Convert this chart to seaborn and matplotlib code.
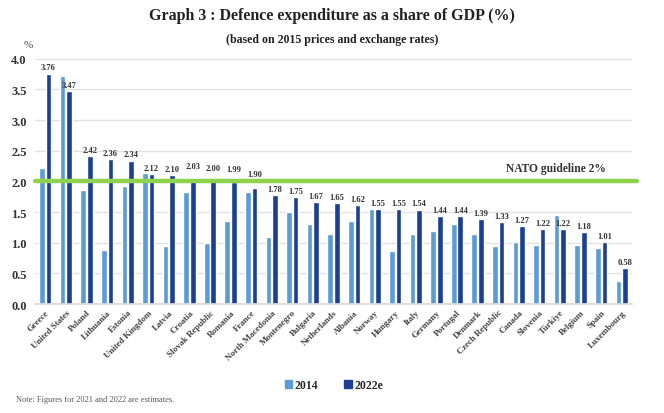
import pandas as pd
import matplotlib.pyplot as plt
import seaborn as sns

# --------------------------------------------------------------------
# DATA
# --------------------------------------------------------------------

countries = [
    "Greece", "United States", "Poland", "Lithuania", "Estonia",
    "United Kingdom", "Latvia", "Croatia", "Slovak Republic", "Romania",
    "France", "North Macedonia", "Montenegro", "Bulgaria", "Netherlands",
    "Albania", "Norway", "Hungary", "Italy", "Germany", "Portugal",
    "Denmark", "Czech Republic", "Canada", "Slovenia", "Türkiye",
    "Belgium", "Spain", "Luxembourg",
]
share_2014 = [
    2.22, 3.72, 1.86, 0.88, 1.93, 2.14, 0.94, 1.82, 0.99, 1.35,
    1.82, 1.09, 1.50, 1.31, 1.15, 1.35, 1.55, 0.86, 1.14, 1.19,
    1.31, 1.15, 0.95, 1.01, 0.97, 1.45, 0.97, 0.92, 0.37,
]
share_2022 = [
    3.76, 3.47, 2.42, 2.36, 2.34, 2.12, 2.10, 2.03, 2.00, 1.99,
    1.90, 1.78, 1.75, 1.67, 1.65, 1.62, 1.55, 1.55, 1.54, 1.44,
    1.44, 1.39, 1.33, 1.27, 1.22, 1.22, 1.18, 1.01, 0.58,
]
series = ["2014", "2022e"]
nato_guideline = 2.0

LIGHT = "#5a9bd8"
DARK = "#1c3f94"
GREEN = "#8fd24e"
SERIF = "Liberation Serif"


def build_frame():
    df = pd.DataFrame({"Country": countries, "2014": share_2014, "2022e": share_2022})
    return df.melt(id_vars="Country", var_name="Year", value_name="Share")


def label_y(v):
    # lift labels that would sit on the guideline
    y = v + 0.1
    if 1.95 < y < 2.15:
        y = v + 0.22
    return y


def main():
    sns.set_theme(style="white")
    plt.rcParams["font.family"] = [SERIF, "DejaVu Serif"]

    df = build_frame()

    fig = plt.figure(figsize=(6.64, 4.14), dpi=100)
    ax = fig.add_axes([35 / 664, 1 - 305 / 414, 597 / 664, 247 / 414])

    sns.barplot(data=df, x="Country", y="Share", hue="Year", order=countries,
                hue_order=series, palette=[LIGHT, DARK], width=0.64, gap=0.14,
                saturation=1, legend=False, ax=ax, zorder=2)

    ax.set_ylim(0, 4.03)
    ax.set_xlim(-0.5, len(countries) - 0.5)
    ax.set_yticks([0, 0.5, 1.0, 1.5, 2.0, 2.5, 3.0, 3.5, 4.0])
    ax.set_yticklabels([f"{v:.1f}" for v in ax.get_yticks()],
                       fontsize=9, fontweight="bold", color="#333333")
    ax.yaxis.grid(True, color="#e2e2e2", linewidth=1, zorder=0)
    ax.set_axisbelow(True)
    for side in ["top", "right", "left"]:
        ax.spines[side].set_visible(False)
    ax.spines["bottom"].set_color("#d9d9d9")
    ax.tick_params(axis="y", length=0, pad=6)
    ax.tick_params(axis="x", length=0, pad=3)
    ax.set_xlabel("")
    ax.set_ylabel("")
    ax.set_xticks(range(len(countries)))
    ax.set_xticklabels(countries, rotation=45, ha="right", rotation_mode="anchor",
                       fontsize=6.4, fontweight="bold", color="#444444")

    # value labels on the 2022e bars
    dark_bars = ax.containers[1]
    for bar, v, old in zip(dark_bars, share_2022, share_2014):
        if old > v + 0.3:
            # taller 2014 bar: put the label beside it
            x, ha = bar.get_x() + bar.get_width(), "left"
        else:
            x, ha = bar.get_x() + bar.get_width() / 2, "center"
        ax.text(x, label_y(v), f"{v:.2f}", ha=ha, va="center",
                fontsize=6.1, fontweight="bold", color="#333333")

    # NATO guideline
    ax.axhline(nato_guideline, color=GREEN, linewidth=3.2, zorder=3,
               xmin=0, xmax=1.008, clip_on=False)
    ax.text(24.8, nato_guideline + 0.12, "NATO guideline 2%", ha="center",
            va="bottom", fontsize=8.3, fontweight="bold", color="#333333")

    # titles
    fig.text(0.5, 1 - 16 / 414, "Graph 3 : Defence expenditure as a share of GDP (%)",
             ha="center", va="center", fontsize=11.5, fontweight="bold", color="#222222")
    fig.text(0.5, 1 - 40 / 414, "(based on 2015 prices and exchange rates)",
             ha="center", va="center", fontsize=8.6, fontweight="bold", color="#222222")
    fig.text(28 / 664, 1 - 46 / 414, "%", ha="center", va="center",
             fontsize=8, color="#444444")

    # legend
    handles = [plt.Rectangle((0, 0), 1, 1, color=c) for c in [LIGHT, DARK]]
    fig.legend(handles, series, loc="center", bbox_to_anchor=(334 / 664, 1 - 386 / 414),
               ncol=2, frameon=False, handlelength=0.6, handleheight=0.6,
               handletextpad=0.25, columnspacing=2.2,
               prop={"family": SERIF, "weight": "bold", "size": 8.5})

    fig.text(16 / 664, 1 - 400 / 414, "Note: Figures for 2021 and 2022 are estimates.",
             ha="left", va="center", fontsize=6, color="#555555")

    fig.savefig("out.png", dpi=100)
    plt.close(fig)


if __name__ == "__main__":
    main()
